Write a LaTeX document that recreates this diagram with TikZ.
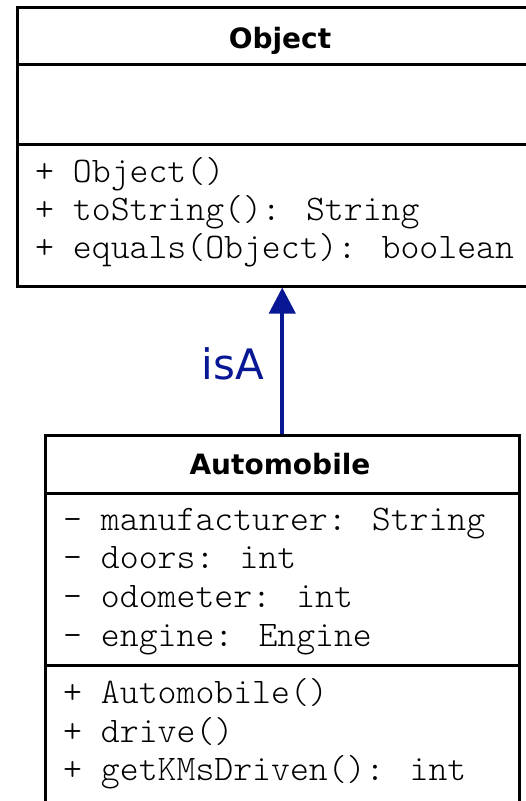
\documentclass[tikz,border=0pt]{standalone}
\usepackage{fontspec}
\usepackage{tikz}
\usetikzlibrary{arrows.meta}
\newfontfamily\umlmono{Latin Modern Mono Light}
\newfontfamily\umlsans{DejaVu Sans}
\definecolor{isablue}{RGB}{8,24,148}

\begin{document}
\begin{tikzpicture}[x=1pt,y=1pt,yscale=-1,xscale=1,
  compartment/.style={draw,line width=2.5pt,anchor=north west,inner sep=0pt,fill=white},
  classname/.style={anchor=base,inner sep=0pt,font=\umlsans\bfseries\fontsize{28}{33}\selectfont},
  member/.style={anchor=base west,inner sep=0pt,font=\umlmono\fontsize{36}{40}\selectfont},
  isa/.style={draw=isablue,line width=4pt,-{Triangle[length=26pt,width=26pt]}}]
\useasboundingbox (0,0) rectangle (526,801);
\clip (0,0) rectangle (526,801);

%Shape: Class Object
\node [compartment,minimum width=524pt,minimum height=57pt] (objname) at (16,6) {};
\node [compartment,minimum width=524pt,minimum height=80pt] (objattr) at (16,63) {};
\node [compartment,minimum width=524pt,minimum height=142pt] (objmeth) at (16,143) {};

%Shape: Class Automobile
\node [compartment,minimum width=474pt,minimum height=58pt] (autoname) at (44,434) {};
\node [compartment,minimum width=474pt,minimum height=172pt] (autoattr) at (44,492) {};
\node [compartment,minimum width=474pt,minimum height=156pt] (autometh) at (44,664) {};

% Text Node
\node [classname] (objtitle) at (280,48) {Object};
\node [member] (objm1) at (35,182) {+ Object()};
\node [member] (objm2) at (35,220) {+ toString(): String};
\node [member] (objm3) at (35,258) {+ equals(Object): boolean};

% Text Node
\node [classname] (autotitle) at (280,474) {Automobile};
\node [member] (autoa1) at (63,530) {- manufacturer: String};
\node [member] (autoa2) at (63,568) {- doors: int};
\node [member] (autoa3) at (63,607) {- odometer: int};
\node [member] (autoa4) at (63,646) {- engine: Engine};
\node [member] (autom1) at (63,703) {+ Automobile()};
\node [member] (autom2) at (63,742) {+ drive()};
\node [member] (autom3) at (63,780) {+ getKMsDriven(): int};

%Straight Lines: inheritance
\draw [isa] (autoname.north) -- (autoname.north |- objmeth.south)
  node [pos=0.37,anchor=base east,xshift=-16pt,inner sep=0pt,text=isablue,font=\umlsans\fontsize{42}{48}\selectfont] (isalabel) {isA};

\end{tikzpicture}
\end{document}
